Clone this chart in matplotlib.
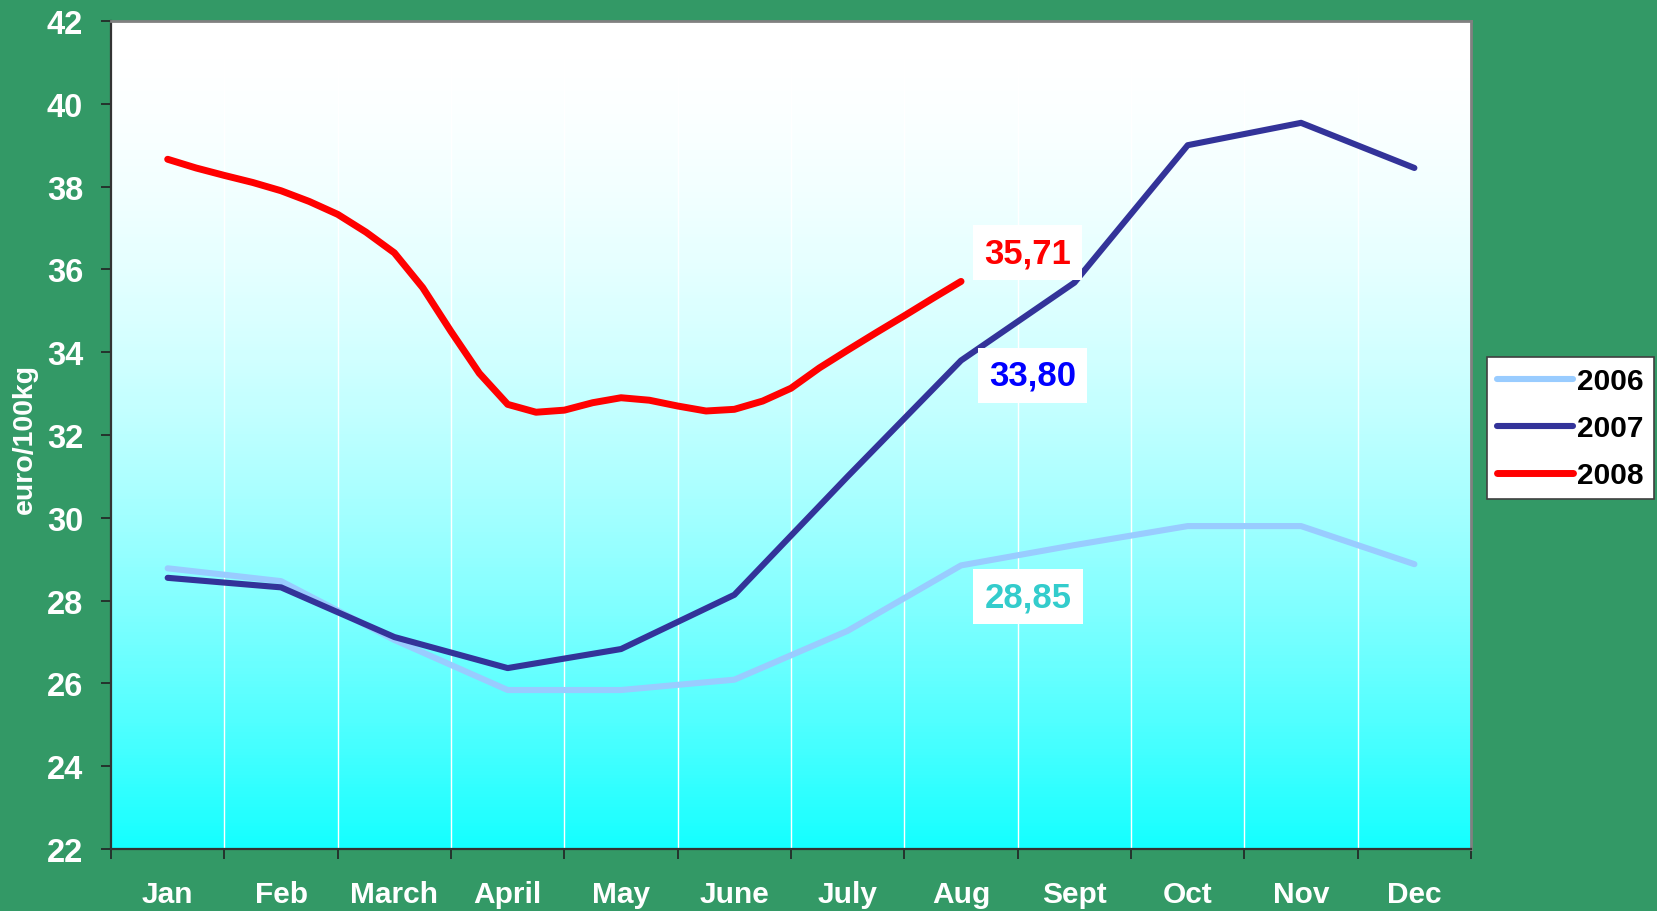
import numpy as np
import matplotlib
matplotlib.use('Agg')
import matplotlib.pyplot as plt

plt.rcParams['font.family'] = ['Liberation Sans', 'DejaVu Sans']
plt.rcParams['font.weight'] = 'bold'

months = ['Jan', 'Feb', 'March', 'April', 'May', 'June', 'July', 'Aug',
          'Sept', 'Oct', 'Nov', 'Dec']
y2006 = [28.78, 28.47, 27.05, 25.84, 25.84, 26.09, 27.27, 28.85,
         29.34, 29.80, 29.80, 28.88]
y2007 = [28.55, 28.32, 27.12, 26.37, 26.83, 28.14, 31.00, 33.80,
         35.68, 39.00, 39.54, 38.45]
# 2008 is weekly-ish (quarter month steps), up to Aug
x2008 = [0, 0.25, 0.5, 0.75, 1, 1.25, 1.5, 1.75, 2, 2.25, 2.5, 2.75,
         3, 3.25, 3.5, 3.75, 4, 4.25, 4.5, 4.75, 5, 5.25, 5.5, 5.75,
         6, 6.25, 6.5, 6.75, 7]
y2008 = [38.66, 38.45, 38.27, 38.10, 37.90, 37.64, 37.33, 36.90,
         36.40, 35.56, 34.50, 33.49, 32.74, 32.55, 32.60, 32.78,
         32.90, 32.84, 32.70, 32.58, 32.62, 32.82, 33.13, 33.62,
         34.05, 34.47, 34.88, 35.30, 35.71]
labels = ['35,71', '33,80', '28,85']

green = '#339966'
fig = plt.figure(figsize=(16.58, 9.12), dpi=100, facecolor=green)
ax = fig.add_axes([0.06695, 0.06798, 0.8203, 0.9079])

# gradient background white (top) -> cyan (bottom), eased
grad = (np.linspace(0, 1, 256) ** 1.8).reshape(-1, 1)
cmap = matplotlib.colors.LinearSegmentedColormap.from_list(
    'wc', [(1, 1, 1), (0.08, 1, 1)])
ax.imshow(grad, aspect='auto', cmap=cmap, extent=[0, 1, 0, 1],
          origin='upper', transform=ax.transAxes, zorder=0,
          vmin=0, vmax=1)

x = np.arange(len(months))
for b in np.arange(0.5, 11, 1.0):
    ax.axvline(b, color='white', lw=1, zorder=1)

ax.plot(x, y2006, color='#99CCFF', lw=4.4, zorder=3,
        solid_capstyle='round', label='2006')
ax.plot(x, y2007, color='#333399', lw=4.4, zorder=4,
        solid_capstyle='round', label='2007')
ax.plot(x2008, y2008, color='#FF0000', lw=5.0, zorder=5,
        solid_capstyle='round', solid_joinstyle='round', label='2008')

box = dict(facecolor='white', edgecolor='none', pad=8)
ax.text(7.59, 36.40, labels[0], color='#FF0000', fontsize=25,
        ha='center', va='center', bbox=box, zorder=6)
ax.text(7.63, 33.44, labels[1], color='#0000FF', fontsize=25,
        ha='center', va='center', bbox=box, zorder=6)
ax.text(7.59, 28.09, labels[2], color='#33CCCC', fontsize=25,
        ha='center', va='center', bbox=box, zorder=6)

ax.set_xlim(-0.5, 11.5)
ax.set_ylim(22, 42)
ax.set_yticks(np.arange(22, 43, 2))
ax.tick_params(axis='y', colors='#222222', labelcolor='white',
               labelsize=23.5, length=7, width=1.2, pad=13)
ax.set_xticks(np.arange(-0.5, 12, 1.0))
ax.set_xticklabels([])
ax.set_xticks(x, minor=True)
ax.set_xticklabels(months, minor=True)
ax.tick_params(axis='x', which='major', colors='#222222', length=7,
               width=1.2)
ax.tick_params(axis='x', which='minor', length=0, labelcolor='white',
               labelsize=21.5, pad=22)

for s in ['left', 'bottom']:
    ax.spines[s].set_color('#333333')
    ax.spines[s].set_linewidth(1.6)
for s in ['top', 'right']:
    ax.spines[s].set_color('#808080')
    ax.spines[s].set_linewidth(2)

fig.text(0.0151, 0.5186, 'euro/100kg', rotation=90, color='white',
         fontsize=20.5, ha='center', va='center')

leg = fig.legend(loc='upper left', bbox_to_anchor=(0.8969, 0.6075),
                 borderaxespad=0, fancybox=False, edgecolor='#404040',
                 framealpha=1, fontsize=21.5, handlelength=2.55,
                 handletextpad=0.12, borderpad=0.34, labelspacing=0.64)
leg.get_frame().set_linewidth(1.2)

fig.savefig('out.png', dpi=100, facecolor=green)
